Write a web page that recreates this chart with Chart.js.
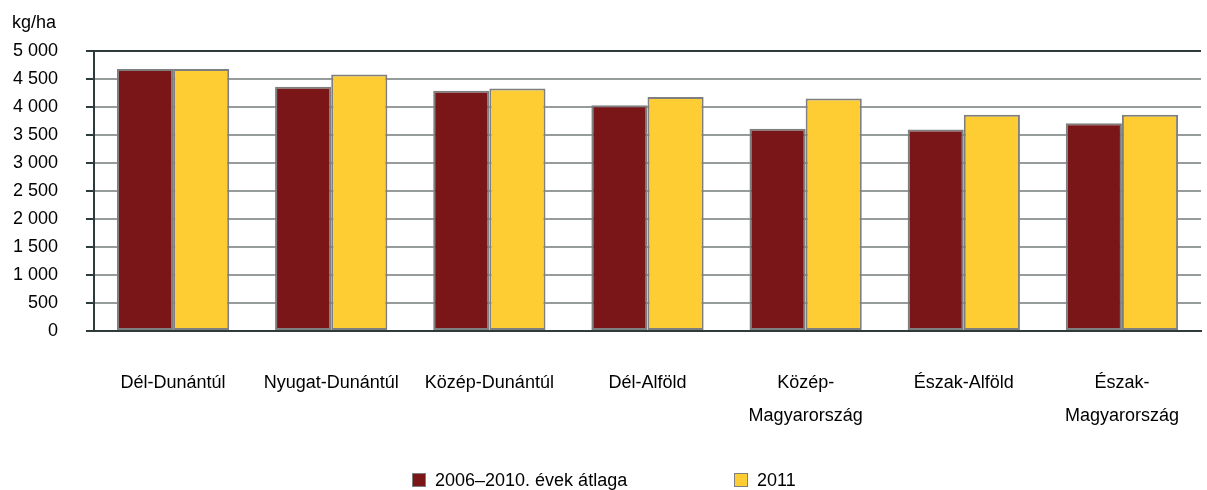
<!DOCTYPE html>
<html>
<head>
<meta charset="utf-8">
<script src="https://cdn.jsdelivr.net/npm/chart.js@4/dist/chart.umd.min.js"></script>
<style>
  html, body { margin: 0; padding: 0; background: #fff; }
  #wrap { position: relative; width: 1207px; height: 490px; font-family: "Liberation Sans", Arial, sans-serif; color: #000; }
  #unit { position: absolute; left: 12px; top: 12px; font-size: 18px; }
  .legend-item { position: absolute; top: 471px; font-size: 18px; line-height: 19px; white-space: nowrap; }
  .legend-dot { display: inline-block; width: 12px; height: 12px; border: 1px solid #7f7f7f; vertical-align: -1px; margin-right: 9px; }
</style>
</head>
<body>
<div id="wrap">
  <canvas id="yieldChart" width="1207" height="490"></canvas>
  <div id="unit">kg/ha</div>
  <div class="legend-item" style="left:412px"><span class="legend-dot" style="background:#7A1518"></span>2006–2010. évek átlaga</div>
  <div class="legend-item" style="left:734px"><span class="legend-dot" style="background:#FECC33"></span>2011</div>
</div>
<script>
// ── Regional yields, kg/ha ───────────────────────────────────────────────────
const regions = [
  'Dél-Dunántúl', 'Nyugat-Dunántúl', 'Közép-Dunántúl', 'Dél-Alföld',
  ['Közép-', 'Magyarország'], 'Észak-Alföld', ['Észak-', 'Magyarország']
];
const avg0610 = [4680, 4360, 4290, 4030, 3610, 3600, 3710];
const y2011   = [4680, 4580, 4330, 4180, 4150, 3860, 3860];
const yTicks  = [0, 500, 1000, 1500, 2000, 2500, 3000, 3500, 4000, 4500, 5000];

const AXIS = '#2f3b3b';
const GRID = '#969b9b';

// "5 000" style thousands separator
const fmtHu = v => String(v).replace(/\B(?=(\d{3})+(?!\d))/g, ' ');

const font = { family: '"Liberation Sans", Arial, sans-serif', size: 18 };

new Chart(document.getElementById('yieldChart'), {
  type: 'bar',
  data: {
    labels: regions,
    datasets: [
      { label: '2006–2010. évek átlaga', data: avg0610, backgroundColor: '#7A1518',
        borderColor: '#7f7f7f', borderWidth: 2, borderSkipped: false },
      { label: '2011', data: y2011, backgroundColor: '#FECC33',
        borderColor: '#7f7f7f', borderWidth: 2, borderSkipped: false }
    ]
  },
  options: {
    responsive: false,
    animation: false,
    layout: { padding: { top: 51, right: 6, left: 0, bottom: 0 } },
    categoryPercentage: 0.71,
    barPercentage: 1.0,
    plugins: { legend: { display: false }, tooltip: { enabled: false } },
    scales: {
      x: {
        // fixed axis band; labels never push the plot edges in
        afterFit: s => { s.height = 159; s.paddingLeft = 0; s.paddingRight = 0; },
        grid: {
          offset: true,
          drawTicks: false,
          lineWidth: 2,
          color: c => c.index === regions.length ? GRID : 'rgba(0,0,0,0)'
        },
        border: { color: AXIS, width: 2 },
        ticks: { color: '#000', font: { ...font, lineHeight: 1.85 }, padding: 35, maxRotation: 0, autoSkip: false }
      },
      y: {
        min: 0, max: 5000,
        afterFit: s => { s.width = 94; },
        afterBuildTicks: s => { s.ticks = yTicks.map(v => ({ value: v })); },
        grid: {
          lineWidth: 2,
          tickLength: 8,
          tickColor: AXIS,
          color: c => c.tick && c.tick.value === 5000 ? AXIS : GRID
        },
        border: { color: AXIS, width: 2 },
        ticks: { color: '#000', font, padding: 28, callback: v => fmtHu(v) }
      }
    }
  }
});
</script>
</body>
</html>
